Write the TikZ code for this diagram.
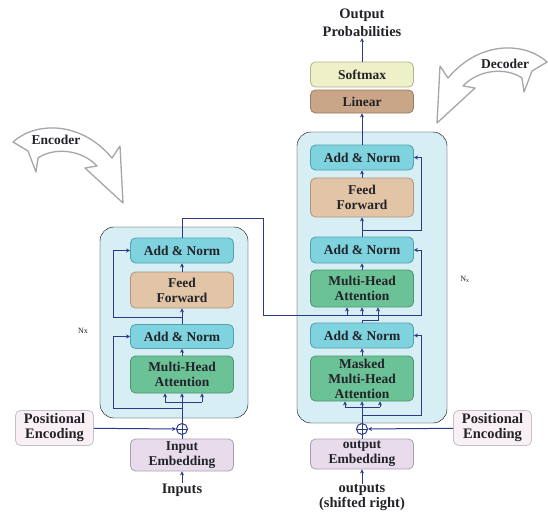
\documentclass[tikz,border=0pt]{standalone}
\usepackage{fontspec}
\setmainfont{Liberation Serif}
\usetikzlibrary{arrows.meta,positioning,calc}
\definecolor{navy}{RGB}{43,58,134}
\definecolor{ink}{RGB}{34,34,40}
\definecolor{panelc}{RGB}{214,238,244}
\definecolor{cyanf}{RGB}{127,211,222}
\definecolor{cyand}{RGB}{84,160,175}
\definecolor{tanf}{RGB}{226,196,166}
\definecolor{tand}{RGB}{176,150,126}
\definecolor{greenf}{RGB}{108,194,151}
\definecolor{greend}{RGB}{74,150,112}
\definecolor{softf}{RGB}{238,240,200}
\definecolor{softd}{RGB}{180,180,140}
\definecolor{linf}{RGB}{201,166,135}
\definecolor{lind}{RGB}{150,122,100}
\definecolor{embf}{RGB}{232,220,236}
\definecolor{embd}{RGB}{172,158,178}
\definecolor{posf}{RGB}{248,240,244}
\definecolor{posd}{RGB}{200,192,196}

\begin{document}
\begin{tikzpicture}[x=1pt,y=-1pt,
    font={\fontsize{13.5}{15}\selectfont\bfseries},text=ink,
    box/.style={draw,rounded corners=5pt,line width=0.8pt,minimum width=103pt,
                align=center,inner sep=1pt},
    addn/.style={box,fill=cyanf,draw=cyand,minimum height=25pt},
    ffn/.style={box,fill=tanf,draw=tand},
    attn/.style={box,fill=greenf,draw=greend},
    emb/.style={box,fill=embf,draw=embd},
    posbox/.style={box,fill=posf,draw=posd,minimum width=78pt,minimum height=35pt,
                font={\fontsize{14.5}{15}\selectfont\bfseries}},
    lbl/.style={align=center,inner sep=1pt,font={\fontsize{14.5}{17}\selectfont\bfseries}},
    tag/.style={font={\fontsize{8}{9}\selectfont}},
    panel/.style={fill=panelc,rounded corners=14pt},
    wire/.style={draw=navy,line width=1pt},
    ar/.style={wire,-{Stealth[length=4pt,width=4pt]}},
    sum/.style={circle,draw=navy,line width=1pt,minimum size=11pt,inner sep=0pt,
                path picture={\draw[navy,line width=1pt]
                  (path picture bounding box.north) -- (path picture bounding box.south)
                  (path picture bounding box.west) -- (path picture bounding box.east);}},
    curl/.style={draw=gray!70,line width=1.3pt,fill=white,line join=round},
    curlarrow/.pic={\draw[curl] (13,142) .. controls (35,122) and (80,120) .. (112,158)
        -- (120,146) -- (123,203) -- (85,168) -- (97,166)
        .. controls (80,148) and (52,148) .. (38,158) -- (36,172) -- (28,151) -- cycle;},
  ]
  \useasboundingbox (0,0) rectangle (548,517);

  % panels
  \draw[panel] (100,227) rectangle (248,418);
  \draw[panel] (297,132) rectangle (447,423);

  % bent arrows
  \pic at (0,0) {curlarrow};
  \pic[xscale=-1] at (560,-80) {curlarrow};
  \node (enctag) at (56,140) {Encoder};
  \node (dectag) at (505,64) {Decoder};

  % encoder
  \node[emb,minimum height=32pt] (encemb) at (182,455) {Input\\Embedding};
  \node[sum] (encsum) at (182,429) {};
  \node[attn,minimum height=37pt] (encmha) at (182,374.5) {Multi-Head\\Attention};
  \node[addn,minimum height=24pt] (encan1) at (182,336.5) {Add \& Norm};
  \node[ffn,minimum height=36pt] (encff) at (182,290) {Feed\\Forward};
  \node[addn] (encan2) at (182,250.5) {Add \& Norm};
  \node[lbl] (inputs) at (182,490) {Inputs};
  \node[posbox] (peenc) at (54.5,428) {Positional\\Encoding};
  \node[tag] (encn) at (83,331) {Nx};

  % decoder
  \node[emb,minimum height=30pt] (decemb) at (362,454) {output\\Embedding};
  \node[sum] (decsum) at (362,429) {};
  \node[attn,minimum height=45pt] (masked) at (362,378.5) {Masked\\Multi-Head\\Attention};
  \node[addn] (decan1) at (362,335.5) {Add \& Norm};
  \node[attn,minimum height=37pt] (decmha) at (362,288.5) {Multi-Head\\Attention};
  \node[addn,minimum height=26pt] (decan2) at (362,250) {Add \& Norm};
  \node[ffn,minimum height=39pt] (decff) at (362,197.5) {Feed\\Forward};
  \node[addn] (decan3) at (362,157.5) {Add \& Norm};
  \node[box,fill=linf,draw=lind,minimum height=23pt] (linear) at (362,101.5) {Linear};
  \node[box,fill=softf,draw=softd,minimum height=25pt] (softmax) at (362,74.5) {Softmax};
  \node[lbl,font={\fontsize{14.5}{18}\selectfont\bfseries}] (outprob) at (362,23) {Output\\Probabilities};
  \node[lbl,font={\fontsize{14.5}{15}\selectfont\bfseries}] (outputs) at (362,498) {outputs\\(shifted right)};
  \node[posbox] (pedec) at (492.5,428) {Positional\\Encoding};
  \node[tag] (decn) at (465,279) {N\textsubscript{x}};

  % encoder flow
  \draw[ar] (inputs) -- (encemb);
  \draw[wire] (encemb) -- (encsum);
  \draw[ar] (peenc) -- (encsum);
  \draw[wire] (encsum) -- (182,402);
  \draw[wire] (165,402) -- (202,402);
  \foreach \x in {165,182,202}
    \draw[ar] (\x,402) -- (\x,402 |- encmha.south);
  \draw[ar] (182,408) -- (113,408) |- (encan1.west);
  \draw[ar] (encmha) -- (encan1);
  \draw[ar] (encan1) -- (encff);
  \draw[ar] (182,317) -- (113,317) |- (encan2.west);
  \draw[ar] (encff) -- (encan2);
  \draw[ar] (encan2.north) |- (263,218) -- (263,315) -- (421,315) |- (decan2.east);

  % decoder flow
  \draw[ar] (outputs) -- (decemb);
  \draw[wire] (decemb) -- (decsum);
  \draw[ar] (pedec) -- (decsum);
  \draw[wire] (decsum) -- (362,407);
  \draw[wire] (345,407) -- (380,407);
  \foreach \x in {345,362,380}
    \draw[ar] (\x,407) -- (\x,407 |- masked.south);
  \draw[ar] (362,415) -- (421,415) |- (decan1.east);
  \draw[ar] (masked) -- (decan1);
  \foreach \x in {347,362}
    \draw[ar] (\x,315) -- (\x,315 |- decmha.south);
  \draw[ar] (decan1.north) |- (378,320) -- (378,320 |- decmha.south);
  \draw[ar] (decmha) -- (decan2);
  \draw[ar] (decan2) -- (decff);
  \draw[ar] (362,230) -- (421,230) |- (decan3.east);
  \draw[ar] (decff) -- (decan3);
  \draw[ar] (decan3) -- (linear);
  \draw[ar] (softmax) -- (outprob);
\end{tikzpicture}
\end{document}
